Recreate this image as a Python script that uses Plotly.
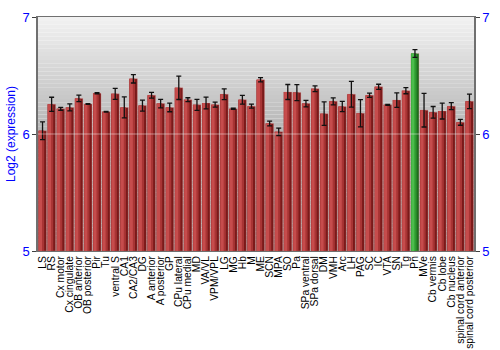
import plotly.graph_objects as go

regions = ["LS", "RS", "Cx motor", "Cx cingulate", "OB anterior", "OB posterior", "Pir", "Tu",
           "ventral S", "CA1", "CA2/CA3", "DG", "A anterior", "A posterior", "GP", "CPu lateral",
           "CPu medial", "MD", "VA/VL", "VPM/VPL", "LG", "MG", "Hb", "M", "ME", "SCN", "MPA", "SO",
           "Pa", "SPa ventral", "SPa dorsal", "DM", "VMH", "Arc", "LH", "PAG", "SC", "IC", "VTA",
           "SN", "Tg", "Pn", "MVe", "Cb vermis", "Cb lobe", "Cb nucleus", "spinal cord anterior",
           "spinal cord posterior"]
expression = [6.028, 6.254, 6.215, 6.227, 6.304, 6.257, 6.348, 6.19, 6.343, 6.227, 6.472, 6.243,
              6.331, 6.26, 6.227, 6.395, 6.293, 6.249, 6.265, 6.251, 6.34, 6.215, 6.293, 6.238,
              6.464, 6.09, 6.019, 6.359, 6.354, 6.26, 6.387, 6.174, 6.279, 6.235, 6.34, 6.177,
              6.331, 6.403, 6.249, 6.29, 6.37, 6.688, 6.204, 6.185, 6.196, 6.238, 6.1, 6.279]
errors = [0.076, 0.06, 0.012, 0.03, 0.028, 0.003, 0.005, 0.003, 0.047, 0.09, 0.036, 0.047,
          0.024, 0.036, 0.037, 0.1, 0.017, 0.047, 0.05, 0.022, 0.046, 0.005, 0.037, 0.017,
          0.018, 0.02, 0.032, 0.064, 0.068, 0.028, 0.025, 0.1, 0.03, 0.043, 0.11, 0.116,
          0.018, 0.022, 0.004, 0.062, 0.026, 0.033, 0.144, 0.05, 0.068, 0.03, 0.025, 0.062]
highlight = "Pn"
y_ticks = [5, 6, 7]

base = 5
heights = [v - base for v in expression]
dark = ["#1e6e1e" if r == highlight else "#7a1a1a" for r in regions]
mid = ["#2f9a2f" if r == highlight else "#a83434" for r in regions]
light = ["#4cbc4c" if r == highlight else "#c64c4c" for r in regions]

fig = go.Figure()
fig.add_trace(go.Bar(x=regions, y=heights, base=base, width=0.88, offset=-0.44,
                     marker=dict(color=dark, line=dict(color="rgba(230,140,140,0.5)", width=0.6)),
                     showlegend=False, hoverinfo="skip"))
fig.add_trace(go.Bar(x=regions, y=heights, base=base, width=0.62, offset=-0.44,
                     marker=dict(color=mid, line=dict(width=0)), showlegend=False, hoverinfo="skip"))
fig.add_trace(go.Bar(x=regions, y=heights, base=base, width=0.34, offset=-0.40,
                     marker=dict(color=light, line=dict(width=0)), showlegend=False, hoverinfo="skip"))
# error bars on top
fig.add_trace(go.Scatter(x=regions, y=expression, mode="markers",
                         marker=dict(size=0.1, color="rgba(0,0,0,0)"),
                         error_y=dict(type="data", array=errors, color="#111111",
                                      thickness=1.3, width=2.5),
                         showlegend=False, hoverinfo="skip"))
# invisible trace for right axis
fig.add_trace(go.Scatter(x=regions, y=expression, yaxis="y2", mode="markers",
                         marker=dict(size=0.1, color="rgba(0,0,0,0)"), showlegend=False,
                         hoverinfo="skip"))

# background gradient
shapes = []
n = 60
def lerp(a, b, t):
    return int(round(a + (b - a) * t))
for i in range(n):
    y0 = i / n
    y1 = (i + 1) / n
    t = 1 - (y0 + y1) / 2  # 0 at top, 1 at bottom
    if t < 0.5:
        c = lerp(0xf2, 0xb4, t / 0.5)
    else:
        c = lerp(0xb4, 0xa6, (t - 0.5) / 0.5)
    shapes.append(dict(type="rect", xref="x domain", yref="y domain", x0=0, x1=1, y0=y0, y1=y1,
                       fillcolor=f"rgb({c},{c},{c})", line=dict(width=0), layer="below"))
shapes.append(dict(type="line", xref="x domain", yref="y", x0=0, x1=1, y0=6, y1=6,
                   line=dict(color="rgba(255,255,255,0.45)", width=1), layer="above"))

fig.update_layout(
    width=500, height=350,
    margin=dict(l=27, r=13, t=10, b=99),
    paper_bgcolor="white", plot_bgcolor="rgba(0,0,0,0)",
    barmode="overlay", bargap=0.1,
    shapes=shapes,
    font=dict(family="Liberation Sans, Arial, sans-serif"),
    xaxis=dict(type="category", tickangle=-90, tickfont=dict(size=10.3, color="black"),
               tickmode="array", tickvals=regions, ticktext=regions,
               showgrid=False, showline=True, mirror=True, linecolor="#707070", linewidth=1,
               ticks="", range=[-0.5, len(regions) - 0.5], fixedrange=True, automargin=False),
    yaxis=dict(range=[5, 7], tickvals=y_ticks, ticktext=[str(v) for v in y_ticks],
               tickfont=dict(size=13, color="blue"), showgrid=False, zeroline=False,
               showline=True, linecolor="#707070", linewidth=1.5, ticks="outside",
               ticklen=4, tickcolor="#404040",
               title=dict(text="Log2 (expression)", font=dict(size=12, color="blue"), standoff=4)),
    yaxis2=dict(range=[5, 7], tickvals=y_ticks, ticktext=[str(v) for v in y_ticks],
                overlaying="y", side="right", tickfont=dict(size=13, color="blue"),
                showgrid=False, zeroline=False, showline=True, linecolor="#707070",
                linewidth=1.5, ticks="outside", ticklen=4, tickcolor="#404040"),
)

fig.write_html("out.html")
